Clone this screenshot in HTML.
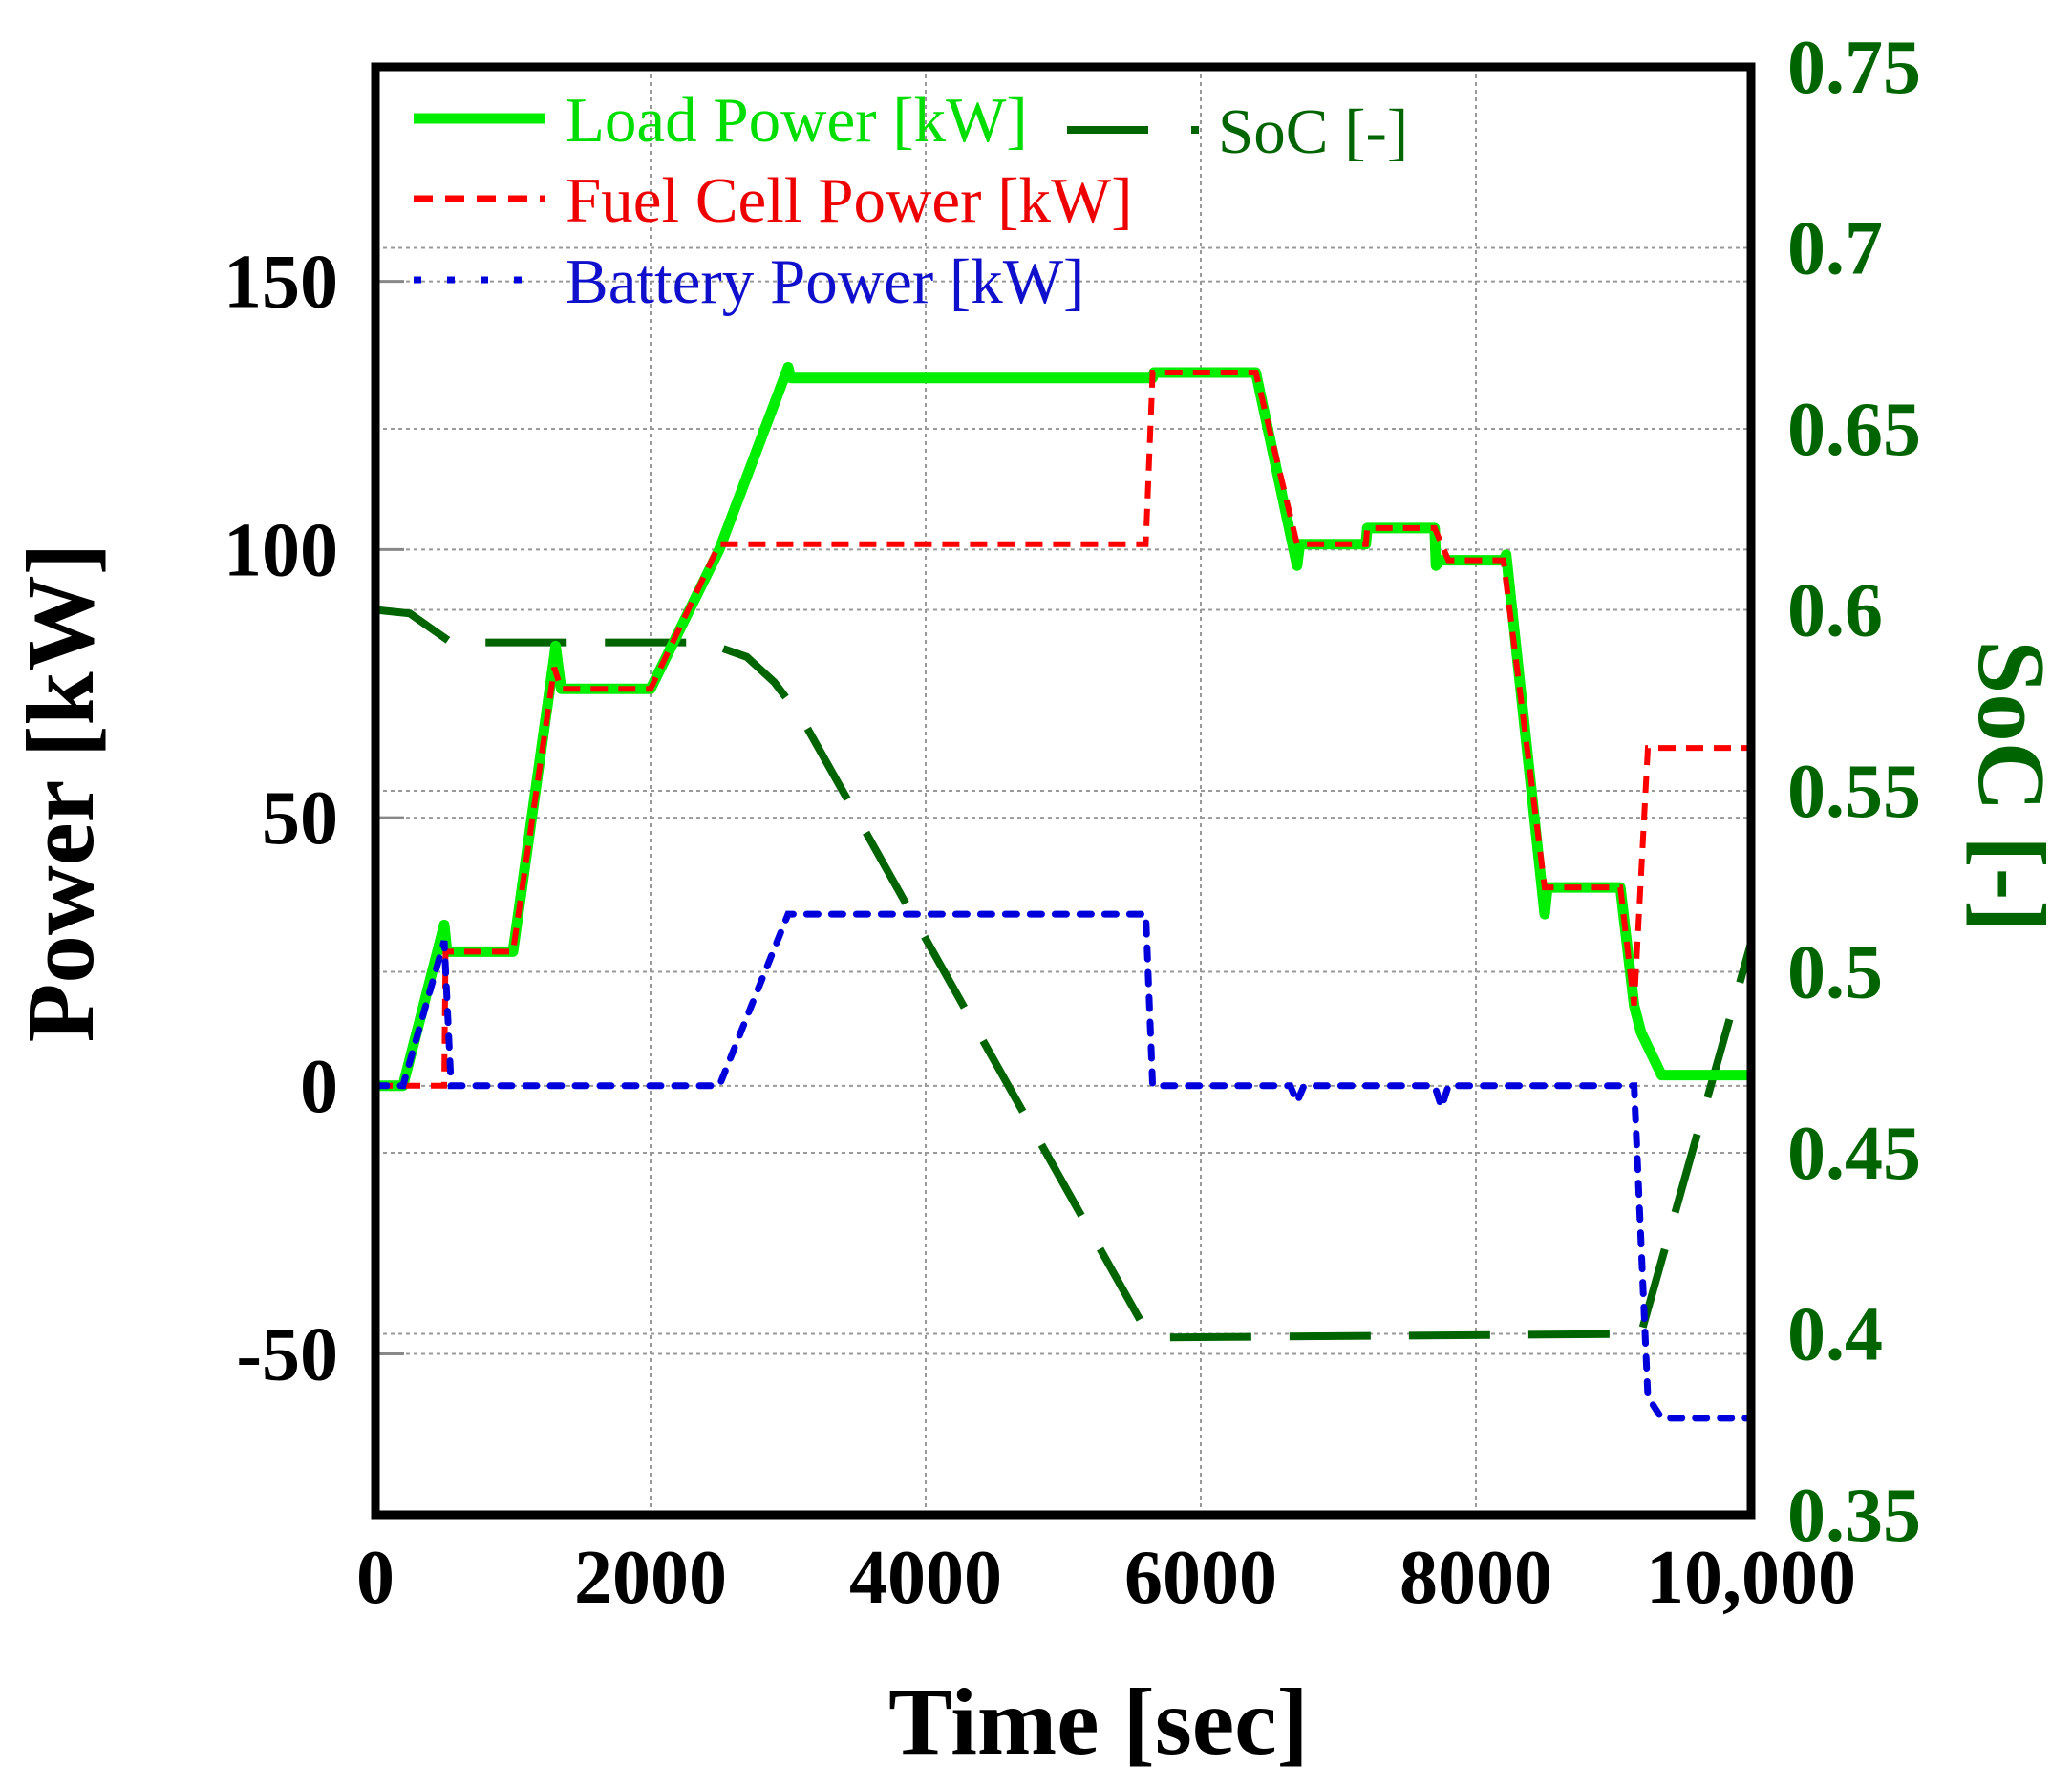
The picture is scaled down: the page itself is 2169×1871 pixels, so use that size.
<!DOCTYPE html>
<html><head><meta charset="utf-8">
<style>
html,body{margin:0;padding:0;background:#fff;}
svg{display:block;font-family:"Liberation Serif","DejaVu Serif",serif;}
</style></head>
<body>
<svg id="chart" width="2169" height="1871" viewBox="0 0 2169 1871" xmlns="http://www.w3.org/2000/svg">
<g id="grid"></g>
<g id="series"></g>
<rect x="393" y="70" width="1440" height="1516" fill="none" stroke="#000" stroke-width="9"/>
<g id="ticks"></g>
<text x="1150" y="1836" font-size="100" font-weight="bold" text-anchor="middle">Time [sec]</text>
<text transform="translate(97,830) rotate(-90)" font-size="101" font-weight="bold" text-anchor="middle">Power [kW]</text>
<text transform="translate(2072,823) rotate(90)" font-size="101" font-weight="bold" fill="#006400" text-anchor="middle">SoC [-]</text>
<g>
  <line x1="433" y1="124" x2="571" y2="124" stroke="#00ee00" stroke-width="11"/>
  <text x="592" y="148" font-size="67" fill="#00dd00">Load Power [kW]</text>
  <line x1="433" y1="208" x2="571" y2="208" stroke="#ff0000" stroke-width="7" stroke-dasharray="20,13"/>
  <text x="592" y="232" font-size="67" fill="#ee0000">Fuel Cell Power [kW]</text>
  <line x1="433" y1="293" x2="571" y2="293" stroke="#0000dd" stroke-width="7" stroke-dasharray="8,27"/>
  <text x="592" y="317" font-size="67" fill="#1010cc">Battery Power [kW]</text>
  <line x1="1117" y1="136" x2="1258" y2="136" stroke="#006400" stroke-width="8" stroke-dasharray="85,45,8,100"/>
  <text x="1275" y="160" font-size="67" fill="#006400">SoC [-]</text>
</g>
</svg>
<script>
const xTicks=[0,2000,4000,6000,8000,10000];
const xTickLabels=["0","2000","4000","6000","8000","10,000"];
const yTicks=[-50,0,50,100,150];
const yTickLabels=["-50","0","50","100","150"];
const socTicks=[0.35,0.4,0.45,0.5,0.55,0.6,0.65,0.7,0.75];
const socTickLabels=["0.35","0.4","0.45","0.5","0.55","0.6","0.65","0.7","0.75"];
const loadT=[0,200,500,520,1000,1300,1310,1350,2000,2500,3000,3020,5650,5660,6400,6700,6720,7200,7210,7700,7710,7740,8200,8220,8500,8520,9050,9150,9200,9350,10000];
const loadP=[0,0,30,25,25,80,82,74,74,100,134,132,132,133,133,97,101,101,104,104,97,98,98,99,32,37,37,15,10,2,2];
const fcT=[0,500,510,1000,1300,1350,2000,2500,5600,5650,6400,6700,7200,7210,7700,7800,8200,8500,9050,9150,9250,10000];
const fcP=[0,0,25,25,78,74,74,101,101,133,133,101,101,104,104,98,98,37,37,15,63,63];
const batT=[0,200,500,550,2500,3000,5600,5650,6650,6700,6750,7700,7750,7800,9150,9250,9350,10000];
const batP=[0,0,27,0,0,32,32,0,0,-3,0,0,-4,0,0,-58,-62,-62];
const socT=[0,250,400,550,2400,2700,2900,3100,5600,5700,9200,10000];
const socV=[0.600,0.599,0.595,0.591,0.591,0.587,0.580,0.570,0.401,0.399,0.400,0.508];

const L=393,R=1833,T=70,B=1586;
const sx=t=>L+(t/10000)*(R-L);
const sy=p=>B-(p+80)/270*(B-T);
const ss=v=>B-(v-0.35)/0.4*(B-T);
const NS="http://www.w3.org/2000/svg";
function mk(tag,attrs,parent){const e=document.createElementNS(NS,tag);for(const k in attrs)e.setAttribute(k,attrs[k]);parent.appendChild(e);return e;}
const grid=document.getElementById('grid'),series=document.getElementById('series'),ticks=document.getElementById('ticks');
xTicks.forEach((t,i)=>{
  if(t>0&&t<10000){const g=mk('line',{x1:sx(t),x2:sx(t),y1:T,y2:B,stroke:'#999','stroke-width':2,'stroke-dasharray':'4,4'},grid);
  
  }
  const tx=mk('text',{x:sx(t),y:1678,'font-size':80,'font-weight':'bold','text-anchor':'middle'},ticks);
  tx.textContent=xTickLabels[i];
  
  
});
yTicks.forEach((p,i)=>{
  const g=mk('line',{x1:L,x2:R,y1:sy(p),y2:sy(p),stroke:'#999','stroke-width':2,'stroke-dasharray':'4,4'},grid);
  
  
  const tk=mk('line',{x1:L,x2:L+30,y1:sy(p),y2:sy(p),stroke:'#888','stroke-width':3},grid);
  
  
  const tx=mk('text',{x:354,y:sy(p)+27,'font-size':80,'font-weight':'bold','text-anchor':'end'},ticks);
  tx.textContent=yTickLabels[i];
  
  
});
socTicks.forEach((v,i)=>{
  if(v>0.35&&v<0.75){const g=mk('line',{x1:L,x2:R,y1:ss(v),y2:ss(v),stroke:'#999','stroke-width':2,'stroke-dasharray':'4,4'},grid);
  
  }
  const tx=mk('text',{x:1871,y:ss(v)+27,'font-size':80,'font-weight':'bold',fill:'#006400'},ticks);
  tx.textContent=socTickLabels[i];
  
  
});
function path(ts,vs,f){return ts.map((t,i)=>(i?'L':'M')+sx(t).toFixed(1)+','+f(vs[i]).toFixed(1)).join(' ');}
const soc=mk('path',{d:path(socT,socV,ss),fill:'none',stroke:'#006400','stroke-width':8,'stroke-dasharray':'85,40'},series);


const load=mk('path',{d:path(loadT,loadP,sy),fill:'none',stroke:'#00ee00','stroke-width':11,'stroke-linejoin':'round'},series);


const fc=mk('path',{d:path(fcT,fcP,sy),fill:'none',stroke:'#ff0000','stroke-width':6,'stroke-dasharray':'18,11'},series);


const bat=mk('path',{d:path(batT,batP,sy),fill:'none',stroke:'#0000dd','stroke-width':7,'stroke-dasharray':'12,14','stroke-linecap':'round'},series);


</script>
</body></html>
